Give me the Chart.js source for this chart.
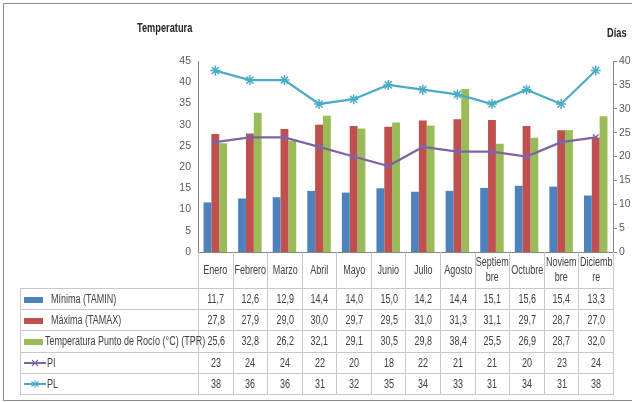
<!DOCTYPE html>
<html>
<head>
<meta charset="utf-8">
<script src="https://cdn.jsdelivr.net/npm/chart.js@4.4.1/dist/chart.umd.min.js"></script>
<style>
  body { margin: 0; background: #fff; }
  #wrap { position: relative; width: 632px; height: 402px; overflow: hidden; font-family: "Liberation Sans", Arial, sans-serif; color: #404040; }
  #frame { position: absolute; left: 3px; top: 3px; width: 660px; height: 396px; border: 1px solid #8c8c8c; }
  canvas { position: absolute; left: 0; top: 0; }
  .title { position: absolute; font-weight: bold; font-size: 12px; color: #262626; transform: scaleX(0.77); transform-origin: left center; }
  #dataTable { position: absolute; border-collapse: collapse; table-layout: fixed; font-size: 12.5px; }
  #dataTable td { border: 1px solid #c8c8c8; text-align: center; padding: 0; color: #404040; white-space: nowrap; }
  #dataTable tr.head td { height: 36px; line-height: 15px; vertical-align: middle; border-top: none; white-space: normal; }
  #dataTable tr.head td.blank { border: none; border-bottom: 1px solid #c8c8c8; }
  #dataTable tr.row td { height: 20.2px; line-height: 14px; }
  #dataTable td.key { text-align: left; padding-left: 3px; }
  .sq { display: inline-block; transform: scaleX(0.72); }
  .key .sq { transform-origin: left center; }
  .hd { display: inline-block; word-break: break-all; transform: scaleX(0.72); }
  .swatch { display: inline-block; width: 19px; height: 6px; vertical-align: middle; margin-right: 2px; }
  svg { vertical-align: middle; }
</style>
</head>
<body>
<div id="wrap">
  <div id="frame"></div>
  <canvas id="climaChart" width="632" height="402"></canvas>
  <div class="title" style="left:137px; top:21px;">Temperatura</div>
  <div class="title" style="left:607px; top:26px;">Días</div>
  <table id="dataTable"></table>
</div>

<script>
// ================= DATA =================

const months = ["Enero", "Febrero", "Marzo", "Abril", "Mayo", "Junio", "Julio", "Agosto", "Septiembre", "Octubre", "Noviembre", "Diciembre"];

const tamin = [11.7, 12.6, 12.9, 14.4, 14.0, 15.0, 14.2, 14.4, 15.1, 15.6, 15.4, 13.3];
const tamax = [27.8, 27.9, 29.0, 30.0, 29.7, 29.5, 31.0, 31.3, 31.1, 29.7, 28.7, 27.0];
const tpr = [25.6, 32.8, 26.2, 32.1, 29.1, 30.5, 29.8, 38.4, 25.5, 26.9, 28.7, 32.0];
const pi = [23, 24, 24, 22, 20, 18, 22, 21, 21, 20, 23, 24];
const pl = [38, 36, 36, 31, 32, 35, 34, 33, 31, 34, 31, 38];

const tempTicks = [0, 5, 10, 15, 20, 25, 30, 35, 40, 45];
const dayTicks = [0, 5, 10, 15, 20, 25, 30, 35, 40];

const colors = {
    tamin: "#4f81bd",
    tamax: "#c0504d",
    tpr: "#9bbb59",
    pi: "#8064a2",
    pl: "#4bacc6"
};


// ================= CHART =================

const axisColor = "#868686";
const tickFont = { family: "'Liberation Sans', Arial, sans-serif", size: 10.5 };

const chart = new Chart(document.getElementById("climaChart"), {

    type: "bar",

    data: {

        labels: months,

        datasets: [
            { label: "Mínima (TAMIN)", data: tamin, backgroundColor: colors.tamin, yAxisID: "y", order: 2 },
            { label: "Máxima (TAMAX)", data: tamax, backgroundColor: colors.tamax, yAxisID: "y", order: 2 },
            { label: "Temperatura Punto de Rocío (°C) (TPR)", data: tpr, backgroundColor: colors.tpr, yAxisID: "y", order: 2 },
            {
                type: "line", label: "PI", data: pi, yAxisID: "y1", order: 0,
                borderColor: colors.pi, backgroundColor: colors.pi, borderWidth: 2.25,
                pointStyle: "crossRot", pointRadius: 4, pointBorderWidth: 1.5
            },
            {
                type: "line", label: "PL", data: pl, yAxisID: "y1", order: 0,
                borderColor: colors.pl, backgroundColor: colors.pl, borderWidth: 2.25,
                pointStyle: "star", pointRadius: 5, pointBorderWidth: 1.5
            }
        ]

    },

    options: {

        responsive: false,
        animation: false,
        categoryPercentage: 0.68,
        barPercentage: 1.0,

        layout: { padding: { top: 61, bottom: 150, left: 0, right: 0 } },

        plugins: {
            legend: { display: false },
            tooltip: { enabled: false }
        },

        scales: {

            x: {
                ticks: { display: false },
                grid: { display: false },
                border: { display: true, color: axisColor },
                afterFit: s => { s.height = 0; }
            },

            y: {
                position: "left",
                min: 0,
                max: 45,
                afterBuildTicks: s => { s.ticks = tempTicks.map(v => ({ value: v })); },
                ticks: { color: "#595959", font: tickFont, padding: 7 },
                grid: { display: false, drawTicks: false },
                border: { display: true, color: axisColor },
                afterFit: s => { s.width = 198; }
            },

            y1: {
                position: "right",
                min: 0,
                max: 40,
                afterBuildTicks: s => { s.ticks = dayTicks.map(v => ({ value: v })); },
                ticks: { color: "#595959", font: tickFont, padding: 2 },
                grid: { display: true, drawOnChartArea: false, drawTicks: true, tickLength: 4, color: axisColor },
                border: { display: true, color: axisColor },
                afterFit: s => { s.width = 19; }
            }

        }

    }

});


// ================= DATA TABLE =================

const squeeze = 0.72;

function fmt(v, decimals) {
    return v.toFixed(decimals).replace(".", ",");
}

function lineKey(color, marker) {
    const mark = marker === "x"
        ? '<path d="M8 0 L14 6 M14 0 L8 6" stroke="' + color + '" stroke-width="1.2"/>'
        : '<path d="M11 -0.5 L11 6.5 M7.5 0.5 L14.5 5.5 M14.5 0.5 L7.5 5.5" stroke="' + color + '" stroke-width="1.2"/>';
    return '<svg width="22" height="7" viewBox="0 0 22 7" style="margin-right:1px;overflow:visible">' +
        '<line x1="0" y1="3" x2="22" y2="3" stroke="' + color + '" stroke-width="2"/>' + mark + '</svg>';
}

function buildTable() {

    const area = chart.chartArea;
    const colW = (area.right - area.left) / months.length;
    const tableLeft = 20;

    const table = document.getElementById("dataTable");
    table.style.left = tableLeft + "px";
    table.style.top = area.bottom + "px";
    table.style.width = (area.right - tableLeft) + "px";

    // header text is laid out wider, then squeezed back into the cell
    const inner = colW - 1;
    const wide = inner / squeeze;
    const overhang = (wide - inner) / 2;

    let html = '<colgroup><col style="width:' + (area.left - tableLeft) + 'px">';
    months.forEach(() => { html += '<col style="width:' + colW + 'px">'; });
    html += "</colgroup>";

    html += '<tr class="head"><td class="blank"></td>';
    months.forEach(m => {
        html += '<td><span class="hd" style="width:' + wide + 'px;margin:0 -' + overhang + 'px">' + m + "</span></td>";
    });
    html += "</tr>";

    const rows = [
        { key: '<span class="swatch" style="background:' + colors.tamin + '"></span><span class="sq" style="margin-left:6px">Mínima (TAMIN)</span>', values: tamin, dec: 1 },
        { key: '<span class="swatch" style="background:' + colors.tamax + '"></span><span class="sq" style="margin-left:6px">Máxima (TAMAX)</span>', values: tamax, dec: 1 },
        { key: '<span class="swatch" style="background:' + colors.tpr + '"></span><span class="sq">Temperatura Punto de Rocío (°C) (TPR)</span>', values: tpr, dec: 1 },
        { key: lineKey(colors.pi, "x") + '<span class="sq">PI</span>', values: pi, dec: 0 },
        { key: lineKey(colors.pl, "*") + '<span class="sq">PL</span>', values: pl, dec: 0 }
    ];

    rows.forEach(r => {
        html += '<tr class="row"><td class="key">' + r.key + "</td>";
        r.values.forEach(v => { html += '<td><span class="sq">' + fmt(v, r.dec) + "</span></td>"; });
        html += "</tr>";
    });

    table.innerHTML = html;

}

buildTable();
</script>
</body>
</html>
